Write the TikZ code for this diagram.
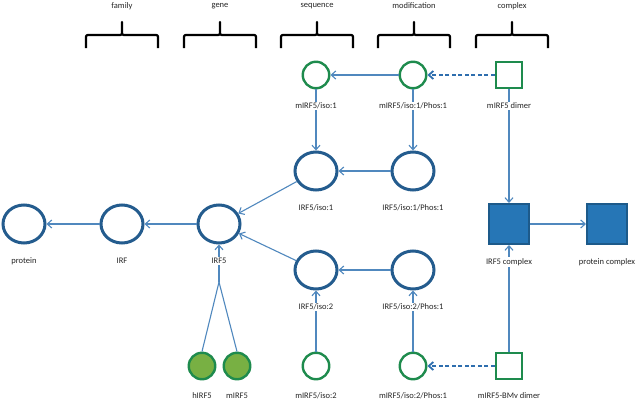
\documentclass[tikz,border=0pt]{standalone}
\usepackage{fontspec}
\setmainfont{Carlito}
\usetikzlibrary{shapes.geometric,arrows.meta}
\definecolor{bluestroke}{HTML}{245C8E}
\definecolor{cstroke}{HTML}{1D5A8A}
\definecolor{cfill}{HTML}{2676B6}
\definecolor{gstroke}{HTML}{1E8B4D}
\definecolor{gfillc}{HTML}{78B043}
\definecolor{arrc}{HTML}{5088BE}
\definecolor{darrc}{HTML}{2E6EAE}
\definecolor{labelc}{HTML}{262626}
\begin{document}
\begin{tikzpicture}[x=1pt,y=-1pt,
  seqnode/.style={ellipse, draw=bluestroke, line width=3pt, minimum width=42pt, minimum height=38pt, inner sep=0pt},
  gnode/.style={circle, draw=gstroke, line width=2.4pt, minimum size=26.5pt, inner sep=0pt},
  gfill/.style={gnode, fill=gfillc},
  gsq/.style={rectangle, draw=gstroke, line width=2.4pt, minimum size=26.5pt, inner sep=0pt},
  cplx/.style={rectangle, draw=cstroke, fill=cfill, line width=2pt, minimum size=40pt, inner sep=0pt},
  lbl/.style={fill=white, inner sep=1pt, font=\fontsize{8.5}{10}\selectfont, text=labelc},
  hdr/.style={inner sep=0pt, font=\fontsize{8.5}{10}\selectfont, text=labelc},
  arr/.style={draw=arrc, line width=1.1pt, -{Straight Barb[length=4.5pt,width=8pt]}},
  darr/.style={draw=darrc, line width=1.8pt, dash pattern=on 4pt off 2.5pt, -{Straight Barb[length=4.5pt,width=8pt]}},
  ln/.style={draw=arrc, line width=1.1pt},
  brc/.style={draw=black, line width=2.2pt, line join=round}
]
\useasboundingbox (0,0) rectangle (640,402);
\fill[white] (0,0) rectangle (640,402);

% headers and braces
\node[hdr] (hfam) at (122,6) {family};
\node[hdr] (hgene) at (220,6) {gene};
\node[hdr] (hseq) at (317,6) {sequence};
\node[hdr] (hmod) at (414,6) {modification};
\node[hdr] (hcpx) at (512,6) {complex};
\foreach \c in {122,220,317,414,512}{
  \draw[brc] ({\c-36},48) -- ({\c-36},39) .. controls ({\c-36},35) .. ({\c-32},35) -- ({\c-4},35)
    .. controls (\c,35) .. (\c,31) -- (\c,22) -- (\c,31) .. controls (\c,35) .. ({\c+4},35)
    -- ({\c+32},35) .. controls ({\c+36},35) .. ({\c+36},39) -- ({\c+36},48);
}

% shapes
\node[gnode] (m1) at (316,75) {};
\node[gnode] (m1p) at (413,75) {};
\node[gsq] (mdim) at (509,75) {};
\node[seqnode] (i1) at (316,171) {};
\node[seqnode] (i1p) at (413,171) {};
\node[seqnode] (prot) at (24,224) {};
\node[seqnode] (irf) at (122,224) {};
\node[seqnode] (irf5) at (219,224) {};
\node[cplx] (icpx) at (509,224) {};
\node[cplx] (pcpx) at (607,224) {};
\node[seqnode] (i2) at (316,270) {};
\node[seqnode] (i2p) at (413,270) {};
\node[gfill] (h5) at (202,366) {};
\node[gfill] (m5) at (237,366) {};
\node[gnode] (m2) at (316,366) {};
\node[gnode] (m2p) at (413,366) {};
\node[gsq] (bdim) at (509,366) {};
\coordinate (conv) at (219,282);

% connectors
\draw[arr] (m1p) -- (m1);
\draw[darr] (mdim) -- (m1p);
\draw[arr] (m1) -- (i1);
\draw[arr] (m1p) -- (i1p);
\draw[arr] (mdim) -- (icpx);
\draw[arr] (i1p) -- (i1);
\draw[arr] (i1) -- (irf5);
\draw[arr] (i2) -- (irf5);
\draw[arr] (irf5) -- (irf);
\draw[arr] (irf) -- (prot);
\draw[arr] (icpx) -- (pcpx);
\draw[arr] (i2p) -- (i2);
\draw[arr] (m2) -- (i2);
\draw[arr] (m2p) -- (i2p);
\draw[arr] (bdim) -- (icpx);
\draw[darr] (bdim) -- (m2p);
\draw[ln] (h5.north) -- (conv);
\draw[ln] (m5.north) -- (conv);
\draw[arr] (conv) -- (irf5);

% labels
\node[lbl] (lm1) at (316,106) {mIRF5/iso:1};
\node[lbl] (lm1p) at (413,106) {mIRF5/iso:1/Phos:1};
\node[lbl] (lmdim) at (509,106) {mIRF5 dimer};
\node[lbl] (li1) at (316,208) {IRF5/iso:1};
\node[lbl] (li1p) at (413,208) {IRF5/iso:1/Phos:1};
\node[lbl] (lprot) at (24,261) {protein};
\node[lbl] (lirf) at (122,261) {IRF};
\node[lbl] (lirf5) at (219,261) {IRF5};
\node[lbl] (licpx) at (509,262) {IRF5 complex};
\node[lbl] (lpcpx) at (607,262) {protein complex};
\node[lbl] (li2) at (316,307) {IRF5/iso:2};
\node[lbl] (li2p) at (413,307) {IRF5/iso:2/Phos:1};
\node[lbl] (lh5) at (202,396) {hIRF5};
\node[lbl] (lm5) at (237,396) {mIRF5};
\node[lbl] (lm2) at (316,396) {mIRF5/iso:2};
\node[lbl] (lm2p) at (413,396) {mIRF5/iso:2/Phos:1};
\node[lbl] (lbdim) at (509,396) {mIRF5-BMv dimer};
\end{tikzpicture}
\end{document}
